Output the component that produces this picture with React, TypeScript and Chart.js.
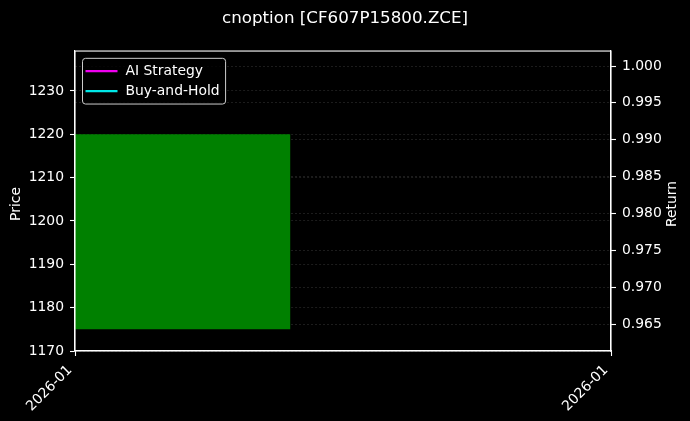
import React, { useEffect, useRef } from 'react';
import { Chart, registerables } from 'chart.js';

Chart.register(...registerables);

const TITLE = 'cnoption [CF607P15800.ZCE]';
const PRICE_LABEL = 'Price';
const RETURN_LABEL = 'Return';

const xTickPositions = [0, 1];
const xTickLabels = ['2026-01', '2026-01'];
const priceTicks = [1170, 1180, 1190, 1200, 1210, 1220, 1230];
const returnTicks = [0.965, 0.97, 0.975, 0.98, 0.985, 0.99, 0.995, 1.0];
const priceRange = [1170, 1239.2];
const returnRange = [0.96134, 1.00203];

// candle body (x start/end in axis units, price low/high)
const candleX = [0, 0.402];
const candleHigh = [1220, 1220];
const candleLow = [1175, 1175];

const aiStrategy: number[] = [];
const buyAndHold: number[] = [];

const legendItems = [
  { label: 'AI Strategy', color: '#f000f0' },
  { label: 'Buy-and-Hold', color: '#00e8e8' },
];

const FONT = "'DejaVu Sans', sans-serif";

const framePlugin = {
  id: 'frameAndText',
  beforeDraw(chart: any) {
    const { ctx, width, height } = chart;
    ctx.save();
    ctx.fillStyle = '#000000';
    ctx.fillRect(0, 0, width, height);
    ctx.restore();
  },
  afterDraw(chart: any) {
    const { ctx, chartArea: ca } = chart;
    ctx.save();
    // frame
    ctx.strokeStyle = '#ffffff';
    ctx.lineWidth = 1.1;
    ctx.strokeRect(ca.left, ca.top, ca.right - ca.left, ca.bottom - ca.top);

    // x tick labels (rotated 45°, right end anchored at the tick)
    ctx.fillStyle = '#ffffff';
    ctx.font = `13.9px ${FONT}`;
    const xs = chart.scales.x;
    xTickPositions.forEach((v, i) => {
      const px = xs.getPixelForValue(v);
      ctx.save();
      ctx.translate(px - 5, ca.bottom + 17);
      ctx.rotate(-Math.PI / 4);
      ctx.textAlign = 'right';
      ctx.textBaseline = 'middle';
      ctx.fillText(xTickLabels[i], 0, 0);
      ctx.restore();
    });

    // axis titles
    ctx.textAlign = 'center';
    ctx.textBaseline = 'middle';
    const midY = (ca.top + ca.bottom) / 2 + 3;
    ctx.save();
    ctx.translate(16, midY);
    ctx.rotate(-Math.PI / 2);
    ctx.fillText(PRICE_LABEL, 0, 0);
    ctx.restore();
    ctx.save();
    ctx.translate(672, midY);
    ctx.rotate(-Math.PI / 2);
    ctx.fillText(RETURN_LABEL, 0, 0);
    ctx.restore();

    // legend
    ctx.font = `13.9px ${FONT}`;
    const textW = Math.max(...legendItems.map((it) => ctx.measureText(it.label).width));
    const bx = ca.left + 7.5;
    const by = ca.top + 7.3;
    const bw = 43 + textW + 6;
    const bh = 45.7;
    const r = 3;
    ctx.beginPath();
    ctx.moveTo(bx + r, by);
    ctx.lineTo(bx + bw - r, by);
    ctx.quadraticCurveTo(bx + bw, by, bx + bw, by + r);
    ctx.lineTo(bx + bw, by + bh - r);
    ctx.quadraticCurveTo(bx + bw, by + bh, bx + bw - r, by + bh);
    ctx.lineTo(bx + r, by + bh);
    ctx.quadraticCurveTo(bx, by + bh, bx, by + bh - r);
    ctx.lineTo(bx, by + r);
    ctx.quadraticCurveTo(bx, by, bx + r, by);
    ctx.closePath();
    ctx.fillStyle = 'rgba(0,0,0,0.8)';
    ctx.fill();
    ctx.strokeStyle = '#cccccc';
    ctx.lineWidth = 1;
    ctx.stroke();
    legendItems.forEach((it, i) => {
      const cy = by + 12.8 + i * 20;
      ctx.strokeStyle = it.color;
      ctx.lineWidth = 2.4;
      ctx.beginPath();
      ctx.moveTo(bx + 3, cy);
      ctx.lineTo(bx + 35, cy);
      ctx.stroke();
      ctx.fillStyle = '#ffffff';
      ctx.textAlign = 'left';
      ctx.textBaseline = 'middle';
      ctx.fillText(it.label, bx + 43, cy);
    });
    ctx.restore();
  },
};

export default function App() {
  const ref = useRef<HTMLCanvasElement | null>(null);

  useEffect(() => {
    if (!ref.current) return;
    const gridColor = 'rgba(255,255,255,0.16)';
    const chart = new Chart(ref.current, {
      type: 'line',
      data: {
        datasets: [
          {
            label: 'candle-high',
            data: candleX.map((x, i) => ({ x, y: candleHigh[i] })),
            yAxisID: 'y',
            borderWidth: 0,
            pointRadius: 0,
            backgroundColor: '#008000',
            borderColor: '#008000',
            fill: '+1',
          },
          {
            label: 'candle-low',
            data: candleX.map((x, i) => ({ x, y: candleLow[i] })),
            yAxisID: 'y',
            borderWidth: 0,
            pointRadius: 0,
            backgroundColor: '#008000',
            borderColor: '#008000',
            fill: false,
          },
          {
            label: legendItems[0].label,
            data: aiStrategy.map((y, i) => ({ x: i, y })),
            yAxisID: 'y1',
            borderColor: legendItems[0].color,
            borderWidth: 2,
            pointRadius: 0,
            fill: false,
          },
          {
            label: legendItems[1].label,
            data: buyAndHold.map((y, i) => ({ x: i, y })),
            yAxisID: 'y1',
            borderColor: legendItems[1].color,
            borderWidth: 2,
            pointRadius: 0,
            fill: false,
          },
        ],
      },
      options: {
        animation: false,
        responsive: true,
        maintainAspectRatio: false,
        devicePixelRatio: 1,
        layout: { padding: 0 },
        plugins: {
          legend: { display: false },
          tooltip: { enabled: false },
          title: {
            display: true,
            text: TITLE,
            color: '#ffffff',
            font: { family: FONT, size: 16.7, weight: 'normal' },
            padding: { top: 9, bottom: 22 },
          },
        },
        scales: {
          x: {
            type: 'linear',
            min: 0,
            max: 1,
            afterBuildTicks: (s: any) => {
              s.ticks = xTickPositions.map((v) => ({ value: v }));
            },
            afterFit: (s: any) => {
              s.height = 70;
            },
            ticks: {
              display: false,
              autoSkip: false,
            },
            grid: {
              drawOnChartArea: false,
              drawTicks: true,
              tickLength: 5,
              tickColor: '#ffffff',
              tickWidth: 1.1,
            },
            border: { display: true, color: '#ffffff', width: 1.1 },
          },
          y: {
            type: 'linear',
            position: 'left',
            z: 1,
            min: priceRange[0],
            max: priceRange[1],
            afterBuildTicks: (s: any) => {
              s.ticks = priceTicks.map((v) => ({ value: v }));
            },
            afterFit: (s: any) => {
              s.width = 75;
            },
            ticks: {
              color: '#ffffff',
              font: { family: FONT, size: 13.9 },
              padding: 6,
              callback: (v: any) => String(v),
            },
            grid: {
              color: gridColor,
              lineWidth: 0.7,
              drawTicks: true,
              tickLength: 5,
              tickColor: '#ffffff',
              tickWidth: 1.1,
            },
            border: { display: true, color: '#ffffff', width: 1.1, dash: [2, 2] },
          },
          y1: {
            type: 'linear',
            position: 'right',
            z: 1,
            min: returnRange[0],
            max: returnRange[1],
            afterBuildTicks: (s: any) => {
              s.ticks = returnTicks.map((v) => ({ value: v }));
            },
            afterFit: (s: any) => {
              s.width = 79;
            },
            ticks: {
              color: '#ffffff',
              font: { family: FONT, size: 13.9 },
              padding: 6,
              callback: (v: any) => Number(v).toFixed(3),
            },
            grid: {
              color: gridColor,
              lineWidth: 0.7,
              drawTicks: true,
              tickLength: 5,
              tickColor: '#ffffff',
              tickWidth: 1.1,
            },
            border: { display: true, color: '#ffffff', width: 1.1, dash: [2, 2] },
          },
        },
      },
      plugins: [framePlugin],
    } as any);
    return () => chart.destroy();
  }, []);

  return (
    <div style={{ position: 'fixed', left: 0, top: 0, width: 690, height: 421, background: '#000' }}>
      <canvas ref={ref} />
    </div>
  );
}
